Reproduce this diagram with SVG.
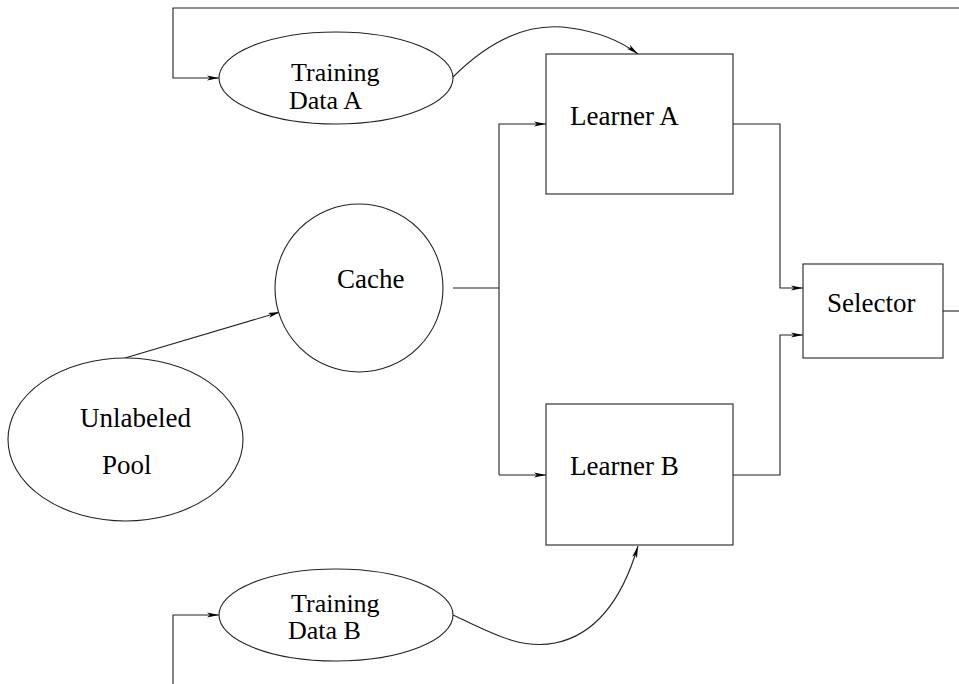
<svg xmlns="http://www.w3.org/2000/svg" width="959" height="684" viewBox="0 0 959 684">
<style>
.s{fill:none;stroke:#222;stroke-width:1.1}
.n{fill:#fff;stroke:#222;stroke-width:1.1}
text{font-family:"Liberation Serif","Times New Roman",serif;font-size:27px;fill:#000}
text.t{font-size:26px}
</style>
<defs>
<marker id="ar" markerUnits="userSpaceOnUse" markerWidth="14" markerHeight="8" refX="12" refY="4" orient="auto" overflow="visible">
<path d="M0,1.5 L12,4 L0,6.5 L3,4 z" fill="#000"/>
</marker>
</defs>
<g id="connectors">
<path class="s" d="M959,8 H173 V78 H219" marker-end="url(#ar)"/>
<path class="s" d="M453,77 C490,40 530,22 570,28 C600,32 622,42 638,54" marker-end="url(#ar)"/>
<path class="s" d="M125,358 L280,312" marker-end="url(#ar)"/>
<path class="s" d="M453,288 H499"/>
<path class="s" d="M499,475 V124 H546" marker-end="url(#ar)"/>
<path class="s" d="M499,475 H546" marker-end="url(#ar)"/>
<path class="s" d="M733,124 H780 V288 H803" marker-end="url(#ar)"/>
<path class="s" d="M733,475 H780 V335 H803" marker-end="url(#ar)"/>
<path class="s" d="M943,311 H959"/>
<path class="s" d="M173,684 V615 H219" marker-end="url(#ar)"/>
<path class="s" d="M453,615 C490,632 520,650 555,643 C595,635 622,600 638,546" marker-end="url(#ar)"/>
</g>
<g id="training-data-a">
<ellipse class="n" cx="336" cy="78" rx="117" ry="46"/>
<text class="t" x="291" y="81">Training</text>
<text class="t" x="289" y="109">Data A</text>
</g>
<g id="learner-a">
<rect class="n" x="546" y="54" width="187" height="140"/>
<text x="570" y="125">Learner A</text>
</g>
<g id="cache">
<circle class="n" cx="359" cy="288" r="84"/>
<text x="337" y="288">Cache</text>
</g>
<g id="unlabeled-pool">
<ellipse class="n" cx="125.5" cy="439.5" rx="117.5" ry="81.5"/>
<text x="80" y="427">Unlabeled</text>
<text x="102" y="474">Pool</text>
</g>
<g id="selector">
<rect class="n" x="803" y="264" width="140" height="94"/>
<text x="827" y="312">Selector</text>
</g>
<g id="learner-b">
<rect class="n" x="546" y="404" width="187" height="141"/>
<text x="570" y="475">Learner B</text>
</g>
<g id="training-data-b">
<ellipse class="n" cx="336" cy="615" rx="117" ry="46"/>
<text class="t" x="291" y="612">Training</text>
<text class="t" x="288" y="639">Data B</text>
</g>
</svg>
